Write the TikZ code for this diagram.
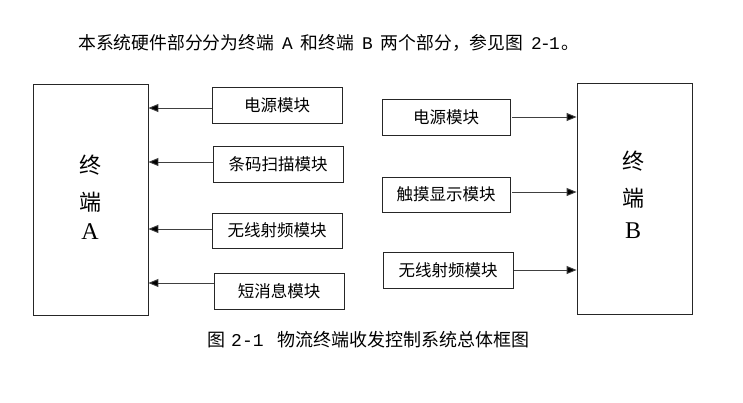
\documentclass[tikz,border=0pt]{standalone}
\usepackage{fontspec}
\newfontfamily\cjk{Noto Sans CJK SC}
\newfontfamily\mono{Liberation Mono}
\setmainfont{Liberation Serif}
\usetikzlibrary{arrows.meta}
\newcommand{\hw}[1]{\makebox[0.5em]{\mono #1}}
\newcommand{\hsp}{\hspace{0.5em}}
\begin{document}
\begin{tikzpicture}[x=1pt,y=-1pt,
  box/.style={draw=black!85,line width=0.8pt,inner sep=0pt,font=\cjk\fontsize{16.5}{18}\selectfont},
  term/.style={draw=black!85,line width=0.8pt,inner sep=0pt,minimum width=115pt,minimum height=231pt},
  big/.style={inner sep=0pt,font=\cjk\fontsize{22}{24}\selectfont},
  bigl/.style={inner sep=0pt,font=\fontsize{24}{26}\selectfont},
  arr/.style={draw=black!75,line width=0.9pt,-{Triangle[length=10pt,width=8pt,fill=black]}},
  txt/.style={inner sep=0pt,font=\cjk\fontsize{17.8}{19}\selectfont},
  captxt/.style={inner sep=0pt,font=\cjk\fontsize{18}{20}\selectfont}]
\useasboundingbox (0,0) rectangle (743,402);
\node[txt,anchor=west] (top) at (78,43) {本系统硬件部分分为终端\hsp\hw{A}\hsp 和终端\hsp\hw{B}\hsp 两个部分，参见图\hsp\hw{2}\hw{-}\hw{1}\hspace{3pt}。};
\node[term] (A) at (90.5,199.5) {};
\node[term] (B) at (634.5,198.5) {};
\node[big] (A1) at (90,165) {终};
\node[big] (A2) at (90,202) {端};
\node[bigl] (A3) at (90,232) {A};
\node[big] (B1) at (633,161) {终};
\node[big] (B2) at (633,198) {端};
\node[bigl] (B3) at (633,231) {B};
\node[box,minimum width=130pt,minimum height=36pt] (L1) at (277,105) {电源模块};
\node[box,minimum width=130pt,minimum height=36pt] (L2) at (278,164) {条码扫描模块};
\node[box,minimum width=130pt,minimum height=35pt] (L3) at (277,230.5) {无线射频模块};
\node[box,minimum width=130pt,minimum height=36pt] (L4) at (279,291) {短消息模块};
\node[box,minimum width=128pt,minimum height=36pt] (R1) at (446,117) {电源模块};
\node[box,minimum width=128pt,minimum height=35pt] (R2) at (446,194.5) {触摸显示模块};
\node[box,minimum width=130pt,minimum height=36pt] (R3) at (448,270) {无线射频模块};
\draw[arr] ([yshift=-3]L1.west) -- ([yshift=-3]L1.west -| A.east);
\draw[arr] ([yshift=2]L2.west) -- ([yshift=2]L2.west -| A.east);
\draw[arr] ([yshift=1.5]L3.west) -- ([yshift=1.5]L3.west -| A.east);
\draw[arr] ([yshift=8]L4.west) -- ([yshift=8]L4.west -| A.east);
\draw[arr] ([xshift=2]R1.east) -- (R1.east -| B.west);
\draw[arr] ([xshift=2,yshift=2.5]R2.east) -- ([yshift=2.5]R2.east -| B.west);
\draw[arr] ([xshift=1]R3.east) -- (R3.east -| B.west);
\node[captxt,anchor=west] (cap) at (207,340) {图\hspace{6pt}{\mono 2-1}\hspace{14pt}物流终端收发控制系统总体框图};
\end{tikzpicture}
\end{document}
